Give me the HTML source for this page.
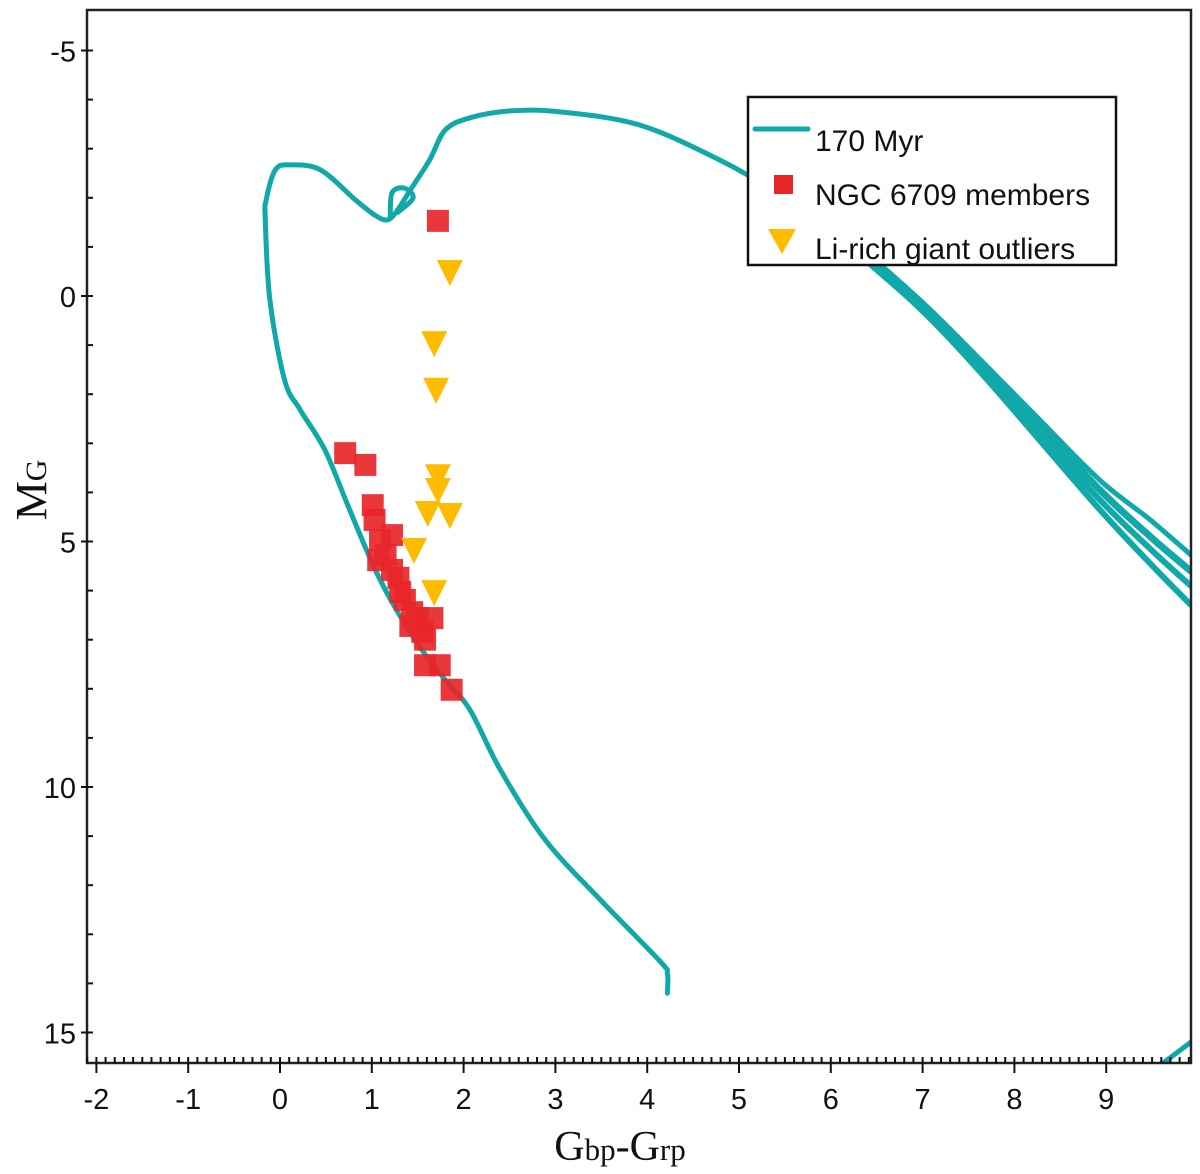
<!DOCTYPE html>
<html><head><meta charset="utf-8"><style>
html,body{margin:0;padding:0;background:#fff;}
svg{display:block;font-family:"Liberation Sans",sans-serif;}
</style></head><body>
<svg id="chart" width="1200" height="1174" viewBox="0 0 1200 1174">
<defs><clipPath id="plotclip"><rect x="87" y="10" width="1104" height="1053"/></clipPath></defs>
<g id="plot" clip-path="url(#plotclip)"></g>
<g id="axes"></g>
<text x="620" y="1160" font-family="Liberation Serif,serif" font-size="42" text-anchor="middle" fill="#111">G<tspan font-size="31">bp</tspan>-G<tspan font-size="31">rp</tspan></text>
<text transform="translate(46,490) rotate(-90)" font-family="Liberation Serif,serif" font-size="44" text-anchor="middle" fill="#111">M<tspan font-size="30">G</tspan></text>
<g>
<rect x="748" y="97" width="368" height="168" fill="#fff" stroke="#111" stroke-width="2.5"/>
<line x1="755" y1="129" x2="808" y2="129" stroke="#10a8a8" stroke-width="5" stroke-linecap="round"/>
<text x="815" y="151" font-size="30" fill="#111">170 Myr</text>
<rect x="774" y="175" width="19" height="19" fill="#e8262a"/>
<text x="815" y="205" font-size="30" fill="#111">NGC 6709 members</text>
<polygon points="768,229 796,229 782,254" fill="#ffbb00"/>
<text x="815" y="259" font-size="30" fill="#111">Li-rich giant outliers</text>
</g>
</svg>
<script>
const isoX=[4.22,4.22,4.14,3.49,2.89,2.40,2.07,1.80,1.47,1.09,0.76,0.49,0.22,0.05,-0.11,-0.16,-0.15,-0.05,0.11,0.44,0.82,1.03,1.17,1.28,1.42,1.63,1.80,2.07,2.51,3.05,3.92,4.79,5.45,6.21,6.97,7.63,8.28,8.93,9.48,9.92];
const isoY=[14.2,13.8,13.55,12.3,11.08,9.65,8.43,7.82,7.0,5.78,4.36,3.14,2.32,1.71,0.08,-1.55,-1.96,-2.57,-2.67,-2.57,-1.96,-1.65,-1.55,-1.75,-2.16,-2.77,-3.38,-3.63,-3.77,-3.75,-3.48,-2.77,-2.06,-1.14,0.08,1.30,2.53,3.75,4.56,5.27];
const branchX=[6.21,6.97,7.63,8.28,8.93,9.48,9.92];
const branchY1=[-1.1,0.15,1.35,2.65,3.95,4.90,5.60];
const branchY2=[-1.05,0.2,1.45,2.8,4.15,5.15,5.90];
const branchY3=[-1.0,0.25,1.55,2.95,4.35,5.45,6.29];
const loopX=[1.20,1.22,1.35,1.45,1.28];
const loopY=[-1.6,-2.1,-2.2,-2.0,-1.7];
const tailX=[9.6,9.92];
const tailY=[15.65,15.2];
const memX=[0.71,0.93,1.01,1.03,1.09,1.22,1.07,1.15,1.22,1.29,1.31,1.36,1.44,1.50,1.42,1.55,1.66,1.58,1.74,1.58,1.87,1.72];
const memY=[3.20,3.44,4.26,4.56,4.97,4.87,5.38,5.27,5.58,5.74,6.03,6.19,6.44,6.56,6.72,6.84,6.56,7.0,7.52,7.52,8.02,-1.53];
const liX=[1.85,1.68,1.70,1.72,1.72,1.61,1.85,1.46,1.68];
const liY=[-0.49,0.96,1.91,3.67,3.95,4.42,4.46,5.17,6.03];
const xTicks=[-2,-1,0,1,2,3,4,5,6,7,8,9];
const yTicks=[-5,0,5,10,15];

const NS='http://www.w3.org/2000/svg';
const sx=v=>280+91.8*v;
const sy=v=>296+49.1*v;
const plot=document.getElementById('plot');
const axes=document.getElementById('axes');
function mk(tag,attrs,parent){const e=document.createElementNS(NS,tag);for(const k in attrs)e.setAttribute(k,attrs[k]);parent.appendChild(e);return e;}
function smooth(xs,ys){
  const P=xs.map((x,i)=>[sx(x),sy(ys[i])]);
  let d='M'+P[0][0].toFixed(1)+','+P[0][1].toFixed(1);
  for(let i=0;i<P.length-1;i++){
    const p0=P[i-1]||P[i],p1=P[i],p2=P[i+1],p3=P[i+2]||p2;
    const c1=[p1[0]+(p2[0]-p0[0])/6,p1[1]+(p2[1]-p0[1])/6];
    const c2=[p2[0]-(p3[0]-p1[0])/6,p2[1]-(p3[1]-p1[1])/6];
    d+=` C${c1[0].toFixed(1)},${c1[1].toFixed(1)} ${c2[0].toFixed(1)},${c2[1].toFixed(1)} ${p2[0].toFixed(1)},${p2[1].toFixed(1)}`;
  }
  return d;
}
function line(xs,ys,name,w){
  const p=mk('path',{d:smooth(xs,ys),fill:'none',stroke:'#10a8a8','stroke-width':w,'stroke-linejoin':'round','stroke-linecap':'round'},plot);
  
  
}
line(isoX,isoY,'isochrone-170myr',5);
line(branchX,branchY1,'isochrone-branch-1',7);
line(branchX,branchY2,'isochrone-branch-2',6);
line(branchX,branchY3,'isochrone-branch-3',6);
line(loopX,loopY,'isochrone-loop',5);
line(tailX,tailY,'isochrone-tail',5);
memX.forEach((x,i)=>{
  const r=mk('rect',{x:sx(x)-11,y:sy(memY[i])-11,width:22,height:22,fill:'#e8262a','fill-opacity':0.92},plot);
  
  
});
liX.forEach((x,i)=>{
  const cx=sx(x),cy=sy(liY[i]);
  const t=mk('polygon',{points:`${cx-13},${cy-12} ${cx+13},${cy-12} ${cx},${cy+14}`,fill:'#ffbb00'},plot);
  
  
});
mk('rect',{x:87,y:10,width:1104,height:1053,fill:'none',stroke:'#222','stroke-width':2.5},axes);
for(let k=-21;k<=99;k++){
  const vv=k/10;const major=k%10===0;
  mk('line',{x1:sx(vv),x2:sx(vv),y1:1057,y2:major?1073:1063,stroke:'#111','stroke-width':2},axes);
}
xTicks.forEach(v=>{
  const t=mk('text',{x:sx(v),y:1109,'font-size':29,'text-anchor':'middle',fill:'#111'},axes);
  t.textContent=v;
  
  
});
for(let v=-5;v<=15;v++){
  const major=v%5===0;
  mk('line',{x1:major?81:87,x2:93,y1:sy(v),y2:sy(v),stroke:'#111','stroke-width':2},axes);
}
yTicks.forEach(v=>{
  const t=mk('text',{x:76,y:sy(v)+11,'font-size':29,'text-anchor':'end',fill:'#111'},axes);
  t.textContent=v;
  
  
});
</script>
</body></html>
